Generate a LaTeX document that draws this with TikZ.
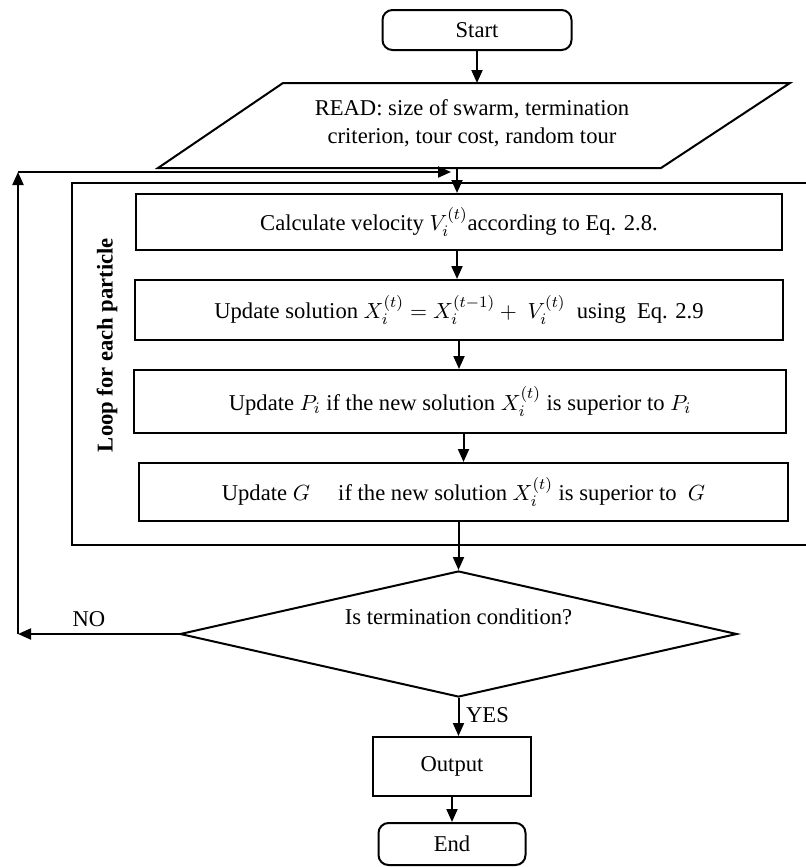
\documentclass[tikz,border=0pt]{standalone}
\usepackage{fontspec}
\setmainfont{Liberation Serif}
\usetikzlibrary{shapes.geometric,arrows.meta}

\tikzset{
  txt/.style={font=\fontsize{11.3}{14}\selectfont},
  base/.style={draw, line width=1pt, align=center, inner sep=2pt, txt},
  terminal/.style={base, rounded corners=5pt},
  process/.style={base},
  decision/.style={base, diamond, aspect=4.4, inner sep=0pt},
  flow/.style={line width=1pt, -{Triangle[length=6.5pt,width=5.5pt]}}
}

\begin{document}
\begin{tikzpicture}[x=0.5pt, y=-0.5pt]
  \useasboundingbox (0,0) rectangle (805,867);

  % start and input
  \node[terminal, minimum width=94.5pt, minimum height=20pt] (start) at (477,30) {Start};
  \draw[line width=1pt] (158,168) -- (661,168) -- (790,83) -- (283,83) -- cycle;
  \node[txt, align=center] (read) at (472,123)
    {READ: size of swarm, termination\\criterion, tour cost, random tour};
  \coordinate (readtop) at (477,83);
  \coordinate (readbot) at (457,168);

  % loop frame
  \node[draw, line width=1pt, minimum width=369pt, minimum height=181pt, inner sep=0pt]
    (loop) at (441,364) {};
  \node[txt, font=\fontsize{11.3}{14}\selectfont\bfseries, rotate=90] (looplbl) at (107,345)
    {Loop for each particle};

  % loop body
  \node[process, minimum width=323pt, minimum height=28pt] (b1) at (459,222)
    {Calculate velocity $V_i^{(t)}$according to Eq. 2.8.};
  \node[process, minimum width=324pt, minimum height=30pt] (b2) at (459,310)
    {Update solution $X_i^{(t)} = X_i^{(t-1)} +\ V_i^{(t)}$\ \ using \ Eq. 2.9};
  \node[process, minimum width=326pt, minimum height=31.5pt] (b3) at (460,401.5)
    {Update $P_i$ if the new solution $X_i^{(t)}$ is superior to $P_i$};
  \node[process, minimum width=324.5pt, minimum height=29pt] (b4) at (463.5,492)
    {Update $G$ \quad if the new solution $X_i^{(t)}$ is superior to \ $G$};

  % decision and output
  \node[decision, minimum width=278.5pt, minimum height=63pt] (dec) at (458.5,634)
    {Is termination condition?\\[3pt]};
  \node[process, minimum width=79pt, minimum height=29.5pt] (out) at (452,766.5) {Output};
  \node[terminal, minimum width=73.5pt, minimum height=21pt] (end) at (452,844) {End};

  % feedback path
  \coordinate (nocorner) at (18,634);
  \coordinate (topcorner) at (18,172);
  \coordinate (join) at (457,172);

  % connectors
  \draw[flow] (start.south) -- (readtop);
  \draw[flow] (readbot) -- (readbot |- b1.north);
  \draw[flow] (b1.south -| readbot) -- (readbot |- b2.north);
  \draw[flow] (b2.south) -- (b3.north -| b2.south);
  \draw[flow] (b3.south -| b4.north) -- (b4.north);
  \draw[flow] (b4.south -| dec.north) -- (dec.north);
  \draw[flow] (dec.west) -- node[txt, above, pos=0.56] {NO} (nocorner);
  \draw[flow] (nocorner) -- (topcorner);
  \draw[flow] (topcorner) -- ([xshift=-3pt]join);
  \draw[flow] (dec.south) -- node[txt, right, pos=0.45] {YES} (out.north -| dec.south);
  \draw[flow] (out.south) -- (end.north);
\end{tikzpicture}
\end{document}
